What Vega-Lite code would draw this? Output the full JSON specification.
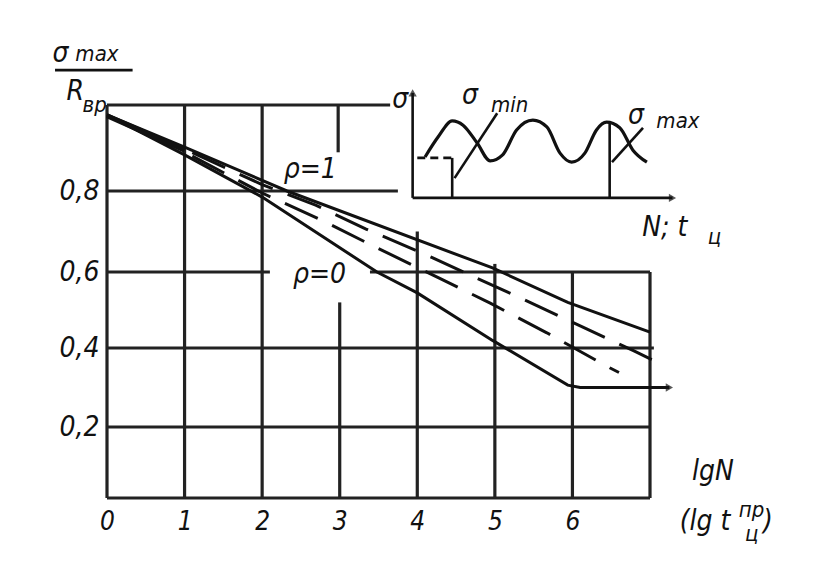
{
  "$schema": "https://vega.github.io/schema/vega-lite/v6.json",
  "width": 543,
  "height": 393,
  "autosize": "none",
  "padding": {"left": 107, "top": 105, "right": 175, "bottom": 84},
  "background": "white",
  "config": {"view": {"stroke": null}, "font": "Liberation Sans Narrow, DejaVu Sans Condensed, sans-serif"},
  "datasets": {
    "grid": [
      {"x": 0, "x2": 3.65, "y": 1, "y2": 1},
      {"x": 0, "x2": 3.75, "y": 0.8, "y2": 0.8},
      {"x": 0, "x2": 2.1, "y": 0.6, "y2": 0.6},
      {"x": 3.39, "x2": 7, "y": 0.6, "y2": 0.6},
      {"x": 0, "x2": 7.05, "y": 0.4, "y2": 0.4},
      {"x": 0, "x2": 7, "y": 0.2, "y2": 0.2},
      {"x": 0, "x2": 7, "y": 0, "y2": 0},
      {"x": 0, "x2": 0, "y": 0, "y2": 1},
      {"x": 1, "x2": 1, "y": 0, "y2": 1},
      {"x": 2, "x2": 2, "y": 0, "y2": 1},
      {"x": 3, "x2": 3, "y": 0, "y2": 0.52},
      {"x": 2.98, "x2": 2.98, "y": 0.89, "y2": 1},
      {"x": 4, "x2": 4, "y": 0, "y2": 0.7},
      {"x": 5, "x2": 5, "y": 0, "y2": 0.62},
      {"x": 6, "x2": 6, "y": 0, "y2": 0.6},
      {"x": 7, "x2": 7, "y": 0, "y2": 0.6}
    ],
    "inset": [
      {"x": 3.94, "x2": 3.94, "y": 0.783, "y2": 1.028},
      {"x": 3.94, "x2": 7.29, "y": 0.783, "y2": 0.783},
      {"x": 4.45, "x2": 4.45, "y": 0.783, "y2": 0.877},
      {"x": 6.48, "x2": 6.48, "y": 0.783, "y2": 0.96},
      {"x": 5.03, "x2": 4.48, "y": 0.981, "y2": 0.83},
      {"x": 6.91, "x2": 6.51, "y": 0.947, "y2": 0.867},
      {"x": -0.67, "x2": 0.33, "y": 1.081, "y2": 1.081}
    ],
    "insetDash": [
      {"x": 4.0, "x2": 4.45, "y": 0.877, "y2": 0.877}
    ],
    "solid": [
      {"s": "ρ=1", "x": 0, "y": 0.977},
      {"s": "ρ=1", "x": 1, "y": 0.902},
      {"s": "ρ=1", "x": 2.32, "y": 0.8},
      {"s": "ρ=1", "x": 4.97, "y": 0.61},
      {"s": "ρ=1", "x": 5.94, "y": 0.52},
      {"s": "ρ=1", "x": 7.0, "y": 0.442},
      {"s": "ρ=0", "x": 0, "y": 0.977},
      {"s": "ρ=0", "x": 1, "y": 0.884},
      {"s": "ρ=0", "x": 2, "y": 0.785},
      {"s": "ρ=0", "x": 3.48, "y": 0.6},
      {"s": "ρ=0", "x": 4, "y": 0.545},
      {"s": "ρ=0", "x": 4.97, "y": 0.42},
      {"s": "ρ=0", "x": 5.94, "y": 0.306},
      {"s": "ρ=0", "x": 6.1, "y": 0.3},
      {"s": "ρ=0", "x": 7.25, "y": 0.3}
    ],
    "wedge": [
      {"x": 0, "y": 0.975},
      {"x": 1, "y": 0.895}
    ],
    "dashed": [
      {"s": "d1", "x": 1.1, "y": 0.889},
      {"s": "d1", "x": 2, "y": 0.815},
      {"s": "d1", "x": 2.69, "y": 0.765},
      {"s": "d1", "x": 3.34, "y": 0.706},
      {"s": "d1", "x": 4.2, "y": 0.635},
      {"s": "d1", "x": 4.68, "y": 0.592},
      {"s": "d1", "x": 5.39, "y": 0.526},
      {"s": "d1", "x": 6.1, "y": 0.458},
      {"s": "d1", "x": 6.8, "y": 0.392},
      {"s": "d1", "x": 7.05, "y": 0.368},
      {"s": "d2", "x": 1.1, "y": 0.881},
      {"s": "d2", "x": 2, "y": 0.795},
      {"s": "d2", "x": 2.77, "y": 0.728},
      {"s": "d2", "x": 3.35, "y": 0.672},
      {"s": "d2", "x": 4.27, "y": 0.585},
      {"s": "d2", "x": 4.94, "y": 0.518},
      {"s": "d2", "x": 5.67, "y": 0.44},
      {"s": "d2", "x": 6.48, "y": 0.35},
      {"s": "d2", "x": 6.6, "y": 0.338}
    ],
    "wave": [
      {"x": 4.10, "y": 0.879},
      {"x": 4.27, "y": 0.926},
      {"x": 4.45, "y": 0.963},
      {"x": 4.59, "y": 0.953},
      {"x": 4.77, "y": 0.912},
      {"x": 4.94, "y": 0.870},
      {"x": 5.10, "y": 0.884},
      {"x": 5.28, "y": 0.942},
      {"x": 5.49, "y": 0.965},
      {"x": 5.67, "y": 0.949},
      {"x": 5.84, "y": 0.888},
      {"x": 5.99, "y": 0.867},
      {"x": 6.16, "y": 0.888},
      {"x": 6.31, "y": 0.942},
      {"x": 6.44, "y": 0.960},
      {"x": 6.61, "y": 0.947},
      {"x": 6.78, "y": 0.895},
      {"x": 6.96, "y": 0.867}
    ],
    "arrowsUp": [
      {"x": 3.94, "y": 1.028}
    ],
    "arrowsRight": [
      {"x": 7.29, "y": 0.783},
      {"x": 7.25, "y": 0.3}
    ],
    "bigText": [
      {"t": "σ", "x": -0.6, "y": 1.118},
      {"t": "R", "x": -0.41, "y": 1.03},
      {"t": "ρ=1", "x": 2.62, "y": 0.85},
      {"t": "ρ=0", "x": 2.74, "y": 0.592},
      {"t": "σ", "x": 3.78, "y": 1.012},
      {"t": "σ", "x": 4.68, "y": 1.022},
      {"t": "σ", "x": 6.82, "y": 0.975},
      {"t": "N; t", "x": 7.19, "y": 0.709},
      {"t": "lgN", "x": 7.81, "y": 0.073},
      {"t": "(lg t", "x": 7.71, "y": -0.068},
      {"t": ")", "x": 8.52, "y": -0.068}
    ],
    "smallText": [
      {"t": "max", "x": -0.13, "y": 1.118},
      {"t": "вр", "x": -0.16, "y": 1.0},
      {"t": "min", "x": 5.19, "y": 1.0},
      {"t": "max", "x": 7.36, "y": 0.962},
      {"t": "ц", "x": 7.83, "y": 0.686},
      {"t": "пр", "x": 8.31, "y": -0.034},
      {"t": "ц", "x": 8.31, "y": -0.1}
    ]
  },
  "encoding": {
    "x": {
      "field": "x", "type": "quantitative",
      "scale": {"domain": [0, 7], "nice": false, "zero": false},
      "axis": {"values": [0, 1, 2, 3, 4, 5, 6], "title": null, "ticks": false, "domain": false, "grid": false,
               "labelFontSize": 26, "labelFontStyle": "italic", "labelPadding": 10, "labelColor": "#111", "labelFlush": false}
    },
    "y": {
      "field": "y", "type": "quantitative",
      "scale": {"domain": [0, 0.2, 0.4, 0.6, 0.8, 1.0], "range": [393, 322, 243, 167, 86, 0], "nice": false, "zero": false},
      "axis": {"values": [0.2, 0.4, 0.6, 0.8], "format": ".1f", "labelExpr": "replace(datum.label, '.', ',')",
               "title": null, "ticks": false, "domain": false, "grid": false,
               "labelFontSize": 28, "labelFontStyle": "italic", "labelPadding": 8, "labelColor": "#111"}
    }
  },
  "layer": [
    {
      "data": {"name": "grid"},
      "mark": {"type": "rule", "strokeWidth": 3.2, "color": "#222"},
      "encoding": {"x2": {"field": "x2"}, "y2": {"field": "y2"}}
    },
    {
      "data": {"name": "inset"},
      "mark": {"type": "rule", "strokeWidth": 2.6, "color": "#111"},
      "encoding": {"x2": {"field": "x2"}, "y2": {"field": "y2"}}
    },
    {
      "data": {"name": "insetDash"},
      "mark": {"type": "rule", "strokeWidth": 2.6, "color": "#111", "strokeDash": [8, 5]},
      "encoding": {"x2": {"field": "x2"}, "y2": {"field": "y2"}}
    },
    {
      "data": {"name": "solid"},
      "mark": {"type": "line", "strokeWidth": 3, "color": "#111"},
      "encoding": {"detail": {"field": "s"}}
    },
    {
      "data": {"name": "wedge"},
      "mark": {"type": "line", "strokeWidth": 5, "color": "#111"},
      "encoding": {}
    },
    {
      "data": {"name": "dashed"},
      "mark": {"type": "line", "strokeWidth": 3, "color": "#111", "strokeDash": [36, 16]},
      "encoding": {"detail": {"field": "s"}}
    },
    {
      "data": {"name": "wave"},
      "mark": {"type": "line", "strokeWidth": 3.2, "color": "#111", "interpolate": "monotone"},
      "encoding": {}
    },
    {
      "data": {"name": "arrowsUp"},
      "mark": {"type": "point", "shape": "triangle-up", "filled": true, "size": 70, "color": "#111"},
      "encoding": {}
    },
    {
      "data": {"name": "arrowsRight"},
      "mark": {"type": "point", "shape": "triangle-right", "filled": true, "size": 70, "color": "#111"},
      "encoding": {}
    },
    {
      "data": {"name": "bigText"},
      "mark": {"type": "text", "fontSize": 28, "fontStyle": "italic", "color": "#111", "align": "center", "baseline": "middle"},
      "encoding": {"text": {"field": "t"}}
    },
    {
      "data": {"name": "smallText"},
      "mark": {"type": "text", "fontSize": 22, "fontStyle": "italic", "color": "#111", "align": "center", "baseline": "middle"},
      "encoding": {"text": {"field": "t"}}
    }
  ]
}
